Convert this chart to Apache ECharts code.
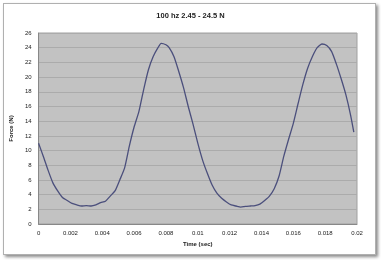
<!DOCTYPE html>
<html><head><meta charset="utf-8">
<script src="https://cdn.jsdelivr.net/npm/echarts@6/dist/echarts.min.js"></script>
<style>
html,body{margin:0;padding:0;background:#fff;}
#card{position:absolute;left:3px;top:3px;width:371px;height:250px;background:#fff;border:1px solid #b0b0b0;box-shadow:2px 2px 3px #8a8a8a;}
#c{position:absolute;left:0;top:0;width:381px;height:260px;}
</style></head>
<body>
<div id="card"></div>
<div id="c"></div>
<script>
const titleText = "100 hz 2.45 - 24.5 N";
const xName = "Time (sec)";
const yName = "Force (N)";
const timeSec = [0,0.0003,0.0006,0.0009,0.0012,0.0015,0.0018,0.0021,0.0024,0.0027,0.0030,0.0033,0.0036,0.0039,0.0042,0.0045,0.0048,0.0051,0.0054,0.0057,0.0060,0.0063,0.0066,0.0069,0.0072,0.0075,0.0077,0.0080,0.0082,0.0085,0.0088,0.0091,0.0094,0.0097,0.0100,0.0103,0.0106,0.0109,0.0112,0.0115,0.0118,0.0121,0.0124,0.0127,0.0130,0.0133,0.0136,0.0139,0.0142,0.0145,0.0148,0.0151,0.0154,0.0157,0.0160,0.0163,0.0166,0.0169,0.0172,0.0175,0.0178,0.0181,0.0184,0.0187,0.0190,0.0193,0.0196,0.0198];
const forceN = [11.0,9.2,7.3,5.6,4.5,3.6,3.2,2.8,2.6,2.45,2.5,2.45,2.6,2.9,3.1,3.8,4.5,6.0,7.6,10.6,13.2,15.3,18.3,21.0,22.8,24.0,24.6,24.4,24.0,22.8,20.8,18.6,16.0,13.6,11.0,8.7,6.9,5.3,4.2,3.5,3.0,2.6,2.45,2.3,2.4,2.45,2.5,2.7,3.2,3.8,4.8,6.5,9.2,11.5,13.7,16.4,19.0,21.2,22.8,24.0,24.5,24.3,23.5,21.8,19.8,17.6,14.8,12.5];
const data = timeSec.map((t,i)=>[t, forceN[i]]);
const chart = echarts.init(document.getElementById('c'), null, {renderer:'canvas'});
chart.setOption({
  backgroundColor: 'transparent',
  animation: false,
  title: {text: titleText, left: 'center', top: 7, textStyle:{fontFamily:'Arial, Liberation Sans', fontSize: 7.5, fontWeight:'bold', color:'#222'}},
  grid: {left: 30, right: 24, top: 33, bottom: 36, show: true, backgroundColor: '#c2c2c2', borderColor: '#a0a0a0', borderWidth: 1},
  xAxis: {type:'value', min:0, max:0.02, interval:0.002,
    name: xName, nameLocation:'middle', nameGap: 15,
    nameTextStyle:{fontFamily:'Arial, Liberation Sans', fontSize:6, fontWeight:'bold', color:'#222'},
    axisLine:{show:true, lineStyle:{color:'#888', width:1}},
    axisTick:{show:false},
    splitLine:{show:false},
    axisLabel:{fontFamily:'Arial, Liberation Sans', fontSize:6, color:'#222', margin:6, formatter:v=>String(+v.toFixed(4))}
  },
  yAxis: {type:'value', min:0, max:26, interval:2,
    name: yName, nameLocation:'middle', nameGap: 13,
    nameTextStyle:{fontFamily:'Arial, Liberation Sans', fontSize:6, fontWeight:'bold', color:'#222'},
    axisLine:{show:true, lineStyle:{color:'#888', width:1}},
    axisTick:{show:false},
    splitLine:{show:true, lineStyle:{color:'#ababab', width:1}},
    axisLabel:{fontFamily:'Arial, Liberation Sans', fontSize:6, color:'#222', margin:7}
  },
  series: [{type:'line', data: data, showSymbol:false, smooth:0.2,
    lineStyle:{color:'#4b4f7c', width:1.3}}]
});
</script>
</body></html>
